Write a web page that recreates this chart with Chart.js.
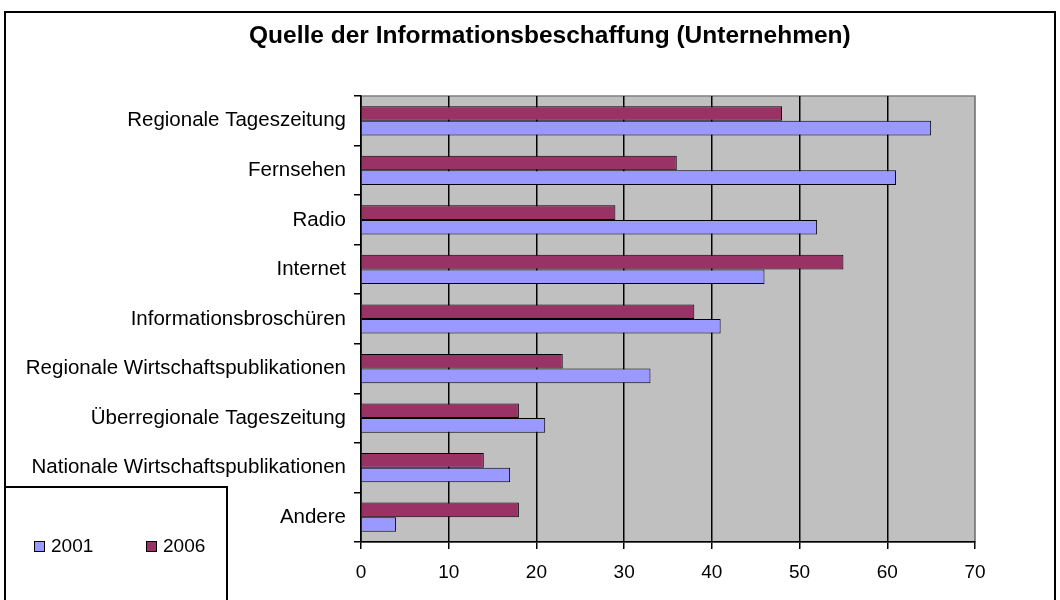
<!DOCTYPE html>
<html>
<head>
<meta charset="utf-8">
<title>Quelle der Informationsbeschaffung</title>
<script src="https://cdn.jsdelivr.net/npm/chart.js@4.4.0/dist/chart.umd.min.js"></script>
<style>
    html, body { margin: 0; padding: 0; background: #fff; overflow: hidden; }
    #wrap { position: relative; width: 1060px; height: 600px; }
    #frame {
        position: absolute; left: 4px; top: 11px; width: 1052px; height: 640px;
        border: 2px solid #000; box-sizing: border-box; pointer-events: none;
    }
    #title {
        position: absolute; left: 249px; width: 600px; top: 20px; text-align: center;
        font: bold 24.5px "Liberation Sans", Arial, sans-serif; color: #000;
        white-space: nowrap; line-height: 30px;
    }
    #legend {
        position: absolute; left: 4px; top: 486px; width: 224px; height: 160px;
        border: 2px solid #000; box-sizing: border-box; background: #fff;
        font: 19px "Liberation Sans", Arial, sans-serif; color: #000;
    }
    .item { position: absolute; top: 47px; line-height: 22px; white-space: nowrap; }
    .box {
        display: inline-block; width: 9px; height: 9px; border: 1px solid #000;
        vertical-align: 0px; margin-right: 6px;
    }
</style>
</head>
<body>
<div id="wrap">
    <canvas id="sourceChart" width="1060" height="600"></canvas>
    <div id="frame"></div>
    <div id="title">Quelle der Informationsbeschaffung (Unternehmen)</div>
    <div id="legend"></div>
</div>
<script>
    // Kategorien (von oben nach unten)
    const categories = [
        'Regionale Tageszeitung',
        'Fernsehen',
        'Radio',
        'Internet',
        'Informationsbroschüren',
        'Regionale Wirtschaftspublikationen',
        'Überregionale Tageszeitung',
        'Nationale Wirtschaftspublikationen',
        'Andere'
    ];
    const values2001 = [65, 61, 52, 46, 41, 33, 21, 17, 4];
    const values2006 = [48, 36, 29, 55, 38, 23, 18, 14, 18];
    const xTicks = [0, 10, 20, 30, 40, 50, 60, 70];

    const legendItems = [
        { label: '2001', color: '#9999FF', left: 28 },
        { label: '2006', color: '#993366', left: 140 }
    ];

    (function() {
        'use strict';

        const FONT = '"Liberation Sans", Arial, sans-serif';
        Chart.defaults.font.family = FONT;
        Chart.defaults.color = '#000';

        // Grauer Plotbereich mit grauem Rahmen oben/rechts
        const plotArea = {
            id: 'plotArea',
            beforeDraw(chart) {
                const a = chart.chartArea;
                const c = chart.ctx;
                c.save();
                c.fillStyle = '#C0C0C0';
                c.fillRect(a.left, a.top, a.right - a.left, a.bottom - a.top);
                c.strokeStyle = '#808080';
                c.lineWidth = 1.5;
                c.strokeRect(a.left, a.top, a.right - a.left, a.bottom - a.top);
                c.restore();
            }
        };

        new Chart(document.getElementById('sourceChart'), {
            type: 'bar',
            data: {
                labels: categories,
                datasets: [{
                    label: '2006',
                    data: values2006,
                    backgroundColor: '#993366',
                    borderColor: '#000',
                    borderWidth: 1
                }, {
                    label: '2001',
                    data: values2001,
                    backgroundColor: '#9999FF',
                    borderColor: '#000',
                    borderWidth: 1
                }]
            },
            options: {
                indexAxis: 'y',
                responsive: false,
                animation: false,
                layout: { padding: { left: 0, right: 85, top: 96, bottom: 0 } },
                datasets: { bar: { categoryPercentage: 0.59, barPercentage: 1.0 } },
                plugins: {
                    legend: { display: false },
                    tooltip: { enabled: false },
                    title: { display: false }
                },
                scales: {
                    x: {
                        min: 0,
                        max: 70,
                        afterFit(scale) { scale.height = 58; },
                        afterBuildTicks(scale) { scale.ticks = xTicks.map(v => ({ value: v })); },
                        ticks: { font: { size: 19 }, padding: 12, color: '#000' },
                        grid: {
                            color: ctx => (ctx.tick && ctx.tick.value === 70) ? '#808080' : '#000',
                            lineWidth: 1.5,
                            tickLength: 7,
                            tickColor: '#000'
                        },
                        border: { display: true, color: '#000', width: 1.5 }
                    },
                    y: {
                        afterFit(scale) { scale.width = 361; },
                        ticks: { font: { size: 20.5 }, padding: 8, color: '#000', autoSkip: false },
                        grid: {
                            offset: true,
                            drawOnChartArea: false,
                            tickLength: 7,
                            color: '#000',
                            lineWidth: 1.5
                        },
                        border: { display: true, color: '#000', width: 1.5 }
                    }
                }
            },
            plugins: [plotArea]
        });

        // Legende als HTML-Kasten unten links
        const legend = document.getElementById('legend');
        legendItems.forEach(item => {
            const el = document.createElement('div');
            el.className = 'item';
            el.style.left = item.left + 'px';
            const box = document.createElement('span');
            box.className = 'box';
            box.style.background = item.color;
            el.appendChild(box);
            el.appendChild(document.createTextNode(item.label));
            legend.appendChild(el);
        });
    })();
</script>
</body>
</html>
